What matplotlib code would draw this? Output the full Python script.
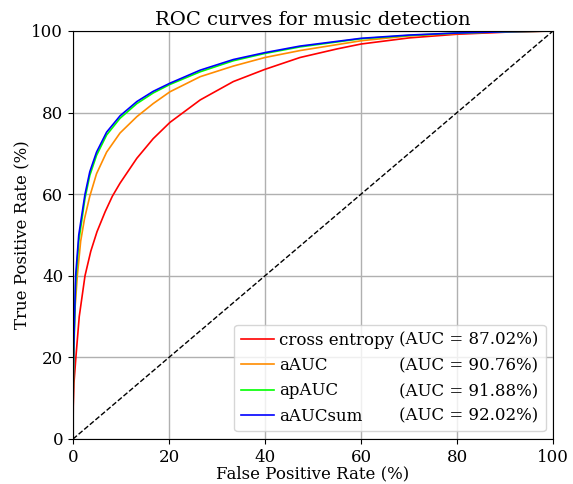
import matplotlib
matplotlib.use('Agg')

import matplotlib.pyplot as plt

plt.rcParams['font.family'] = 'DejaVu Serif'

#********************************ROC data (percent)********************************
names = ['cross entropy', 'aAUC', 'apAUC', 'aAUCsum']
aucs = [87.02, 90.76, 91.88, 92.02]
colors = ['red', 'darkorange', 'lime', 'blue']

fpr_ce = [0, 0.05, 0.2, 0.6, 1.3, 2.5, 3.7, 5.0, 6.7, 8.2, 9.8, 13.3, 16.7, 20.2, 26.5, 33.4, 40, 47.3, 55, 60, 70, 80, 90, 100]
tpr_ce = [0, 8, 13.7, 20, 30, 40, 46, 50.8, 55.7, 59.5, 62.7, 68.8, 73.6, 77.6, 83.1, 87.6, 90.6, 93.5, 95.6, 96.8, 98.3, 99.2, 99.7, 100]

fpr_aauc = [0, 0.05, 0.3, 0.9, 1.6, 2.4, 3.5, 4.9, 7.0, 9.8, 13.3, 16.7, 20.2, 26.5, 33.4, 40, 47.3, 60, 70, 80, 90, 100]
tpr_aauc = [0, 15, 30, 40, 48.5, 54, 59.5, 65, 70.3, 75, 79, 82.2, 85.1, 88.8, 91.4, 93.5, 95.2, 97.6, 98.8, 99.4, 99.8, 100]

fpr_apauc = [0, 0.05, 0.15, 0.55, 1.2, 2.5, 3.5, 4.9, 7.0, 9.8, 13.3, 16.7, 20.2, 26.5, 33.4, 40, 47.3, 60, 70, 80, 90, 100]
tpr_apauc = [0, 12, 20, 38, 48.5, 59, 64.6, 69.5, 74.5, 78.6, 82.2, 84.8, 86.9, 90.0, 92.7, 94.5, 96.1, 98.1, 98.9, 99.5, 99.8, 100]

fpr_sum = [0, 0.05, 0.15, 0.55, 1.2, 2.5, 3.5, 4.9, 7.0, 9.8, 13.3, 16.7, 20.2, 26.5, 33.4, 40, 47.3, 60, 70, 80, 90, 100]
tpr_sum = [0, 14, 22, 40, 50, 60, 65.5, 70.3, 75.2, 79.2, 82.7, 85.2, 87.2, 90.4, 93.0, 94.7, 96.3, 98.2, 99.0, 99.5, 99.8, 100]

curves = [(fpr_ce, tpr_ce), (fpr_aauc, tpr_aauc), (fpr_apauc, tpr_apauc), (fpr_sum, tpr_sum)]

fig = plt.figure(figsize=(5.73, 4.84), dpi=100)
ax = fig.add_axes([0.1274, 0.093, 0.8377, 0.843])

lines = []
for (f, t), c in zip(curves, colors):
    l, = ax.plot(f, t, color=c, lw=1.2)
    lines.append(l)
ax.plot([0, 100], [0, 100], 'k--', lw=1)

ax.set_xlim(0, 100)
ax.set_ylim(0, 100)
ax.set_xticks([0, 20, 40, 60, 80, 100])
ax.set_yticks([0, 20, 40, 60, 80, 100])
ax.tick_params(labelsize=12)
ax.grid(True, color='#b0b0b0', lw=1)
ax.set_xlabel('False Positive Rate (%)', fontsize=12, labelpad=0)
ax.set_ylabel('True Positive Rate (%)', fontsize=12, labelpad=0)
ax.set_title('ROC curves for music detection', fontsize=14, pad=4)

# second legend column holds the AUC values, with invisible handles
blanks = [plt.Line2D([], [], lw=0) for _ in names]
auc_labels = ['(AUC = %.2f%%)' % a for a in aucs]
ax.legend(lines + blanks, names + auc_labels, ncol=2, loc='lower right', fontsize=12,
          handlelength=2, handletextpad=0.3, columnspacing=-2.0,
          borderaxespad=0.45, labelspacing=0.5)

plt.savefig('out.png', dpi=100)
